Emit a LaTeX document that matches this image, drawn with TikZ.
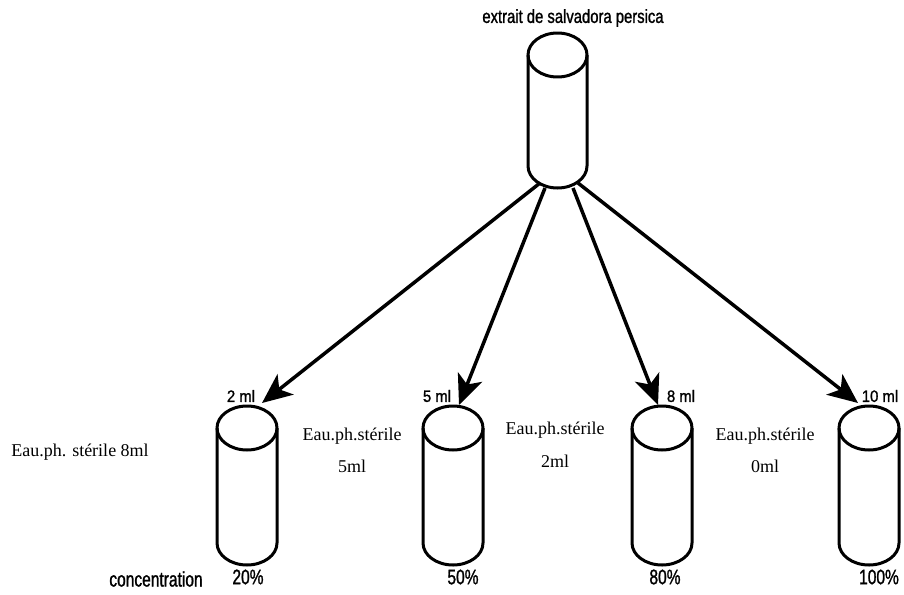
\documentclass[tikz,border=0pt]{standalone}
\usepackage{fontspec}
\setmainfont{Liberation Serif}
\newfontfamily\titlefont[FakeStretch=0.78,FakeBold=1.2]{Liberation Sans}
\newfontfamily\mlfont[FakeStretch=0.9,FakeBold=1.2]{Liberation Sans}
\newfontfamily\pctfont[FakeStretch=0.74,FakeBold=1.2]{Liberation Sans}
\usetikzlibrary{arrows.meta}
\newcommand\tubedraw[5]{% cx, ytop, ybot, rx, ry
  \draw[tubeline] (#1,#2) ellipse [x radius=#4pt, y radius=#5pt];
  \draw[tubeline] (#1-#4,#2) -- (#1-#4,#3) arc [start angle=180, end angle=360, x radius=#4pt, y radius=#5pt] -- (#1+#4,#2);
}
\begin{document}
\begin{tikzpicture}[x=1pt,y=-1pt,
  tubeline/.style={line width=3pt, line join=round},
  flow/.style={line width=3.5pt, -{Stealth[length=30pt,width=26pt,inset=8pt]}},
  titletext/.style={font=\titlefont\fontsize{19}{21}\selectfont, inner sep=0pt},
  mltext/.style={font=\mlfont\fontsize{16.5}{18}\selectfont, inner sep=0pt},
  pcttext/.style={font=\pctfont\fontsize{21}{23}\selectfont, inner sep=0pt},
  serif/.style={font=\fontsize{18}{20}\selectfont, inner sep=0pt}]
\useasboundingbox (0,0) rectangle (904,594);
% tubes
\tubedraw{557.5}{55}{166}{29.5}{22}
\tubedraw{247}{428}{543}{30}{22}
\tubedraw{453}{428}{543}{30}{22}
\tubedraw{662}{428}{543}{30}{22}
\tubedraw{869}{428}{543}{30}{22}
% named connector ends
\coordinate (s1) at (540,183);
\coordinate (s2) at (545,188);
\coordinate (s3) at (573,188);
\coordinate (s4) at (578,183);
\coordinate (t1) at (262,403);
\coordinate (t2) at (459,405);
\coordinate (t3) at (658,405);
\coordinate (t4) at (858,403);
\draw[flow] (s1) -- (t1);
\draw[flow] (s2) -- (t2);
\draw[flow] (s3) -- (t3);
\draw[flow] (s4) -- (t4);
% labels
\node[titletext] (title) at (573,18) {extrait de salvadora persica};
\node[mltext] (v1) at (241,396) {2 ml};
\node[mltext] (v2) at (437,396) {5 ml};
\node[mltext] (v3) at (681,396) {8 ml};
\node[mltext] (v4) at (880,396) {10 ml};
\node[pcttext] (c1) at (248,577) {20\%};
\node[pcttext] (c2) at (463,577) {50\%};
\node[pcttext] (c3) at (665,577) {80\%};
\node[pcttext] (c4) at (879,577) {100\%};
\node[pcttext] (conc) at (156,579) {concentration};
\node[serif] (w0) at (80,452) {Eau.ph. stérile 8ml};
\node[serif] (w1a) at (352,436) {Eau.ph.stérile};
\node[serif] (w1b) at (352,466) {5ml};
\node[serif] (w2a) at (555,430) {Eau.ph.stérile};
\node[serif] (w2b) at (555,461) {2ml};
\node[serif] (w3a) at (765,436) {Eau.ph.stérile};
\node[serif] (w3b) at (765,466) {0ml};
\end{tikzpicture}
\end{document}
